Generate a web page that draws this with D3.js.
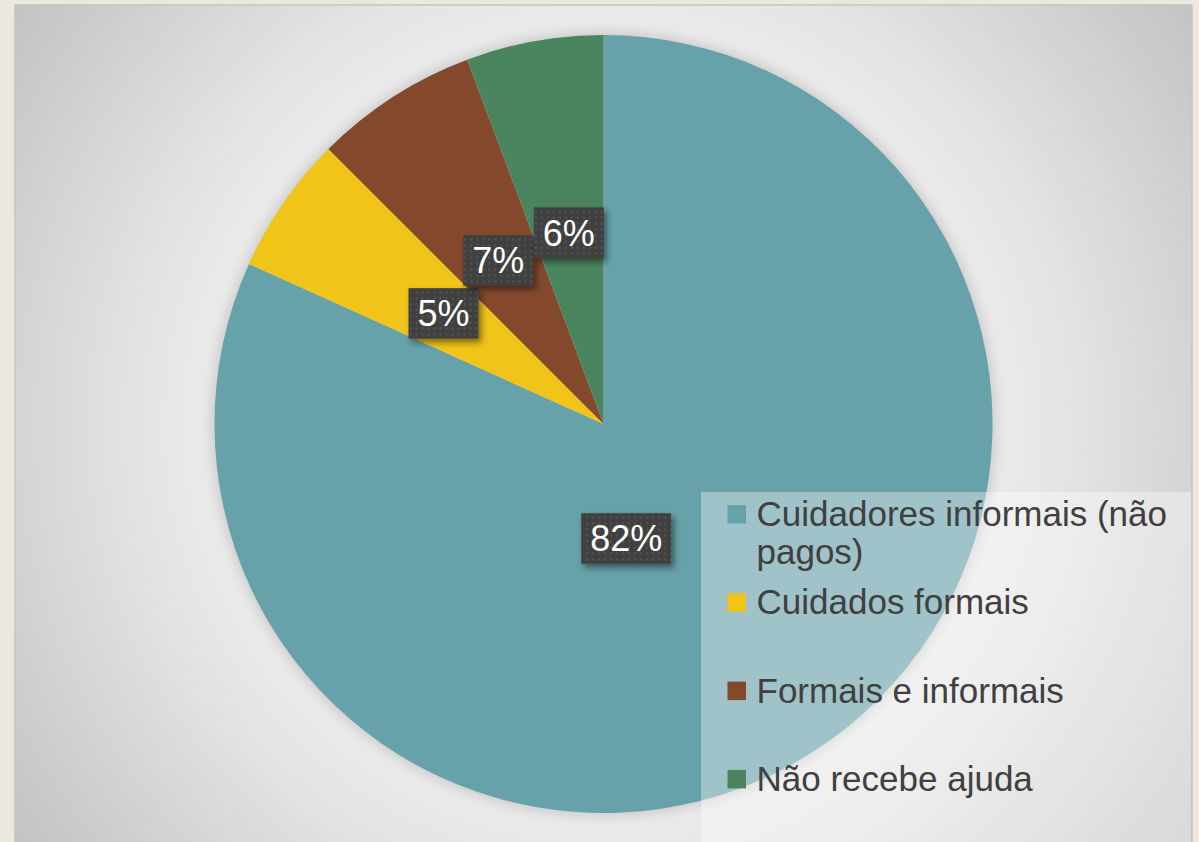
<!DOCTYPE html>
<html>
<head>
<meta charset="utf-8">
<script src="https://cdn.jsdelivr.net/npm/d3@7"></script>
<style>
  html, body { margin: 0; padding: 0; background: #ece8dd; }
  svg { display: block; }
</style>
</head>
<body>
<div id="chart"></div>
<script>
// data
var categories = ['Cuidadores informais (não pagos)', 'Cuidados formais', 'Formais e informais', 'Não recebe ajuda'];
var legendLines = [['Cuidadores informais (não', 'pagos)'], ['Cuidados formais'], ['Formais e informais'], ['Não recebe ajuda']];
var shares = [81.75, 5.75, 6.8, 5.7];
var pctLabels = ['82%', '5%', '7%', '6%'];
var colors = ['#67a1a9', '#f0c419', '#84492c', '#4a8560'];

var width = 1199, height = 842;
var cx = 603.5, cy = 424, radius = 389;

var svg = d3.select('#chart').append('svg')
    .attr('width', width)
    .attr('height', height);
var defs = svg.append('defs');

// plot area background
var grad = defs.append('radialGradient')
    .attr('id', 'bg')
    .attr('gradientUnits', 'userSpaceOnUse')
    .attr('cx', cx).attr('cy', cy).attr('r', 730);
[[0, '#efefef'], [0.57, '#e9e9e9'], [0.67, '#e1e1e1'], [0.87, '#cecece'], [1, '#c2c2c2']].forEach(function(s) {
    grad.append('stop').attr('offset', s[0]).attr('stop-color', s[1]);
});

var blur = defs.append('filter').attr('id', 'pieShadow')
    .attr('x', '-20%').attr('y', '-20%').attr('width', '140%').attr('height', '140%');
blur.append('feGaussianBlur').attr('stdDeviation', 6);

var boxShadow = defs.append('filter').attr('id', 'boxShadow')
    .attr('x', '-30%').attr('y', '-30%').attr('width', '160%').attr('height', '160%');
boxShadow.append('feDropShadow')
    .attr('dx', 3).attr('dy', 4).attr('stdDeviation', 3)
    .attr('flood-color', '#000').attr('flood-opacity', 0.45);

var dots = defs.append('pattern').attr('id', 'dots')
    .attr('patternUnits', 'userSpaceOnUse')
    .attr('width', 6).attr('height', 6);
dots.append('rect').attr('width', 6).attr('height', 6).attr('fill', '#404040');
dots.append('rect').attr('x', 2).attr('y', 2).attr('width', 2).attr('height', 2).attr('fill', '#545454');

svg.append('rect')
    .attr('x', 15).attr('y', 5)
    .attr('width', 1177).attr('height', 850)
    .attr('fill', 'url(#bg)')
    .attr('stroke', '#c4c4c4')
    .attr('stroke-width', 1.5);

var g = svg.append('g').attr('transform', 'translate(' + cx + ',' + cy + ')');

g.append('circle')
    .attr('r', radius + 3)
    .attr('fill', '#000')
    .attr('opacity', 0.13)
    .attr('filter', 'url(#pieShadow)');

var pie = d3.pie().sort(null).value(function(d) { return d; });
var arcs = pie(shares);
var arc = d3.arc().innerRadius(0).outerRadius(radius);

g.selectAll('path.slice')
    .data(arcs)
    .enter().append('path')
    .attr('class', 'slice')
    .attr('d', arc)
    .attr('fill', function(d, i) { return colors[i]; });

// legend panel (semi transparent, over the pie)
var legX = 701, legY = 492;
svg.append('rect')
    .attr('x', legX).attr('y', legY)
    .attr('width', 1191 - legX).attr('height', height - legY + 10)
    .attr('fill', '#ffffff')
    .attr('opacity', 0.37);

var legend = svg.append('g').attr('transform', 'translate(' + legX + ',' + legY + ')');
var itemStep = 88.3;
var items = legend.selectAll('g.item')
    .data(categories)
    .enter().append('g')
    .attr('class', 'item')
    .attr('transform', function(d, i) { return 'translate(0,' + (34 + i * itemStep) + ')'; });
items.append('rect')
    .attr('x', 26.5).attr('y', -21)
    .attr('width', 18.5).attr('height', 18.5)
    .attr('fill', function(d, i) { return colors[i]; });
items.append('text')
    .attr('x', 55.5)
    .attr('fill', '#404040')
    .style('font-family', '"Liberation Sans", Arial, sans-serif')
    .style('font-size', '35px')
    .each(function(d, i) {
        d3.select(this).selectAll('tspan')
            .data(legendLines[i])
            .enter().append('tspan')
            .attr('x', 55.5)
            .attr('dy', function(t, j) { return j === 0 ? 0 : 37.5; })
            .text(function(t) { return t; });
    });

// data labels
var labelArc = d3.arc().innerRadius(0).outerRadius(radius);
function labelPos(d, i) {
    if (i === 0) {
        // best-fit placement used for the large slice
        return d3.pointRadial(168.8 * Math.PI / 180, radius * 0.3);
    }
    return labelArc.centroid(d);
}

var labels = g.selectAll('g.label')
    .data(arcs)
    .enter().append('g')
    .attr('class', 'label')
    .attr('transform', function(d, i) {
        var p = labelPos(d, i);
        return 'translate(' + p[0] + ',' + p[1] + ')';
    });

labels.append('rect').attr('class', 'box');
labels.append('text')
    .attr('text-anchor', 'middle')
    .attr('dy', '0.36em')
    .attr('fill', '#ffffff')
    .style('font-family', '"Liberation Sans", Arial, sans-serif')
    .style('font-size', '36px')
    .text(function(d, i) { return pctLabels[i]; });

labels.each(function() {
    var sel = d3.select(this);
    var w = sel.select('text').node().getComputedTextLength() + 18;
    var h = 50.5;
    sel.select('rect.box')
        .attr('x', -w / 2).attr('y', -h / 2)
        .attr('width', w).attr('height', h)
        .attr('fill', 'url(#dots)')
        .attr('filter', 'url(#boxShadow)');
});
</script>
</body>
</html>
